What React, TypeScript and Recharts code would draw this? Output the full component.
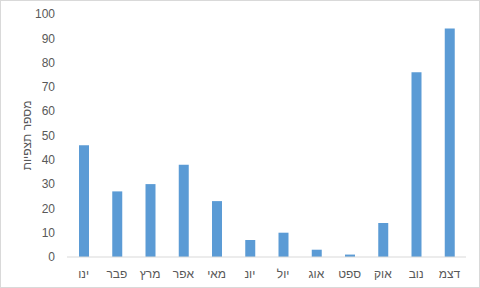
import { Bar, BarChart, Label, XAxis, YAxis } from "recharts";

const months = ["ינו", "פבר", "מרץ", "אפר", "מאי", "יונ", "יול", "אוג", "ספט", "אוק", "נוב", "דצמ"];
const observations = [46, 27, 30, 38, 23, 7, 10, 3, 1, 14, 76, 94];
const yTicks = [0, 10, 20, 30, 40, 50, 60, 70, 80, 90, 100];
const yTitle = "מספר תצפיות";

const data = months.map((m, i) => ({ month: m, count: observations[i] }));

const TEXT = "#595959";
const FONT = "'Liberation Sans', Arial, sans-serif";

export default function App() {
  return (
    <div style={{ width: 480, height: 288, boxSizing: "border-box", border: "1px solid #d9d9d9", background: "#fff", fontFamily: FONT }}>
      <style>{`body{margin:0}`}</style>
      <BarChart
        width={478}
        height={286}
        data={data}
        margin={{ top: 13, right: 13, left: 0, bottom: 0 }}
        barCategoryGap={0}
      >
        <XAxis
          dataKey="month"
          tick={{ fontSize: 12, fill: TEXT, fontFamily: FONT }}
          tickLine={false}
          axisLine={{ stroke: "#d9d9d9" }}
          interval={0}
          height={30}
          tickMargin={6}
        />
        <YAxis
          domain={[0, 100]}
          ticks={yTicks}
          tick={{ fontSize: 12, fill: TEXT, fontFamily: FONT }}
          tickLine={false}
          axisLine={false}
          width={66}
          tickMargin={6}
          interval={0}
        >
          <Label
            content={({ viewBox }: any) => {
              const cy = viewBox.y + viewBox.height / 2;
              const cx = 30;
              return (
                <text
                  x={cx}
                  y={cy}
                  transform={`rotate(-90, ${cx}, ${cy})`}
                  textAnchor="middle"
                  fontSize={12}
                  fill={TEXT}
                  fontFamily={FONT}
                >
                  {yTitle}
                </text>
              );
            }}
          />
        </YAxis>
        <Bar dataKey="count" fill="#5B9BD5" barSize={10} isAnimationActive={false} />
      </BarChart>
    </div>
  );
}
